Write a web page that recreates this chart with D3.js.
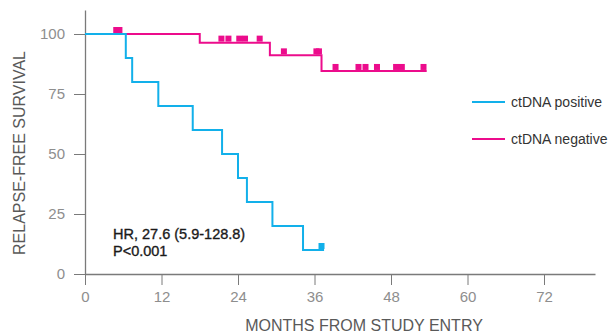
<!DOCTYPE html>
<html lang="en">
<head>
    <meta charset="UTF-8">
    <title>Relapse-free survival</title>
    <script src="https://d3js.org/d3.v7.min.js"></script>
    <style>
        body { margin: 0; background: #fff; }
        svg { font-family: "Liberation Sans", Arial, sans-serif; }
    </style>
</head>
<body>
<script>

// ctDNA positive: step times (months) and survival (%)
const posTimes = [0, 6.4, 7.4, 11.5, 16.9, 21.5, 24.0, 25.4, 29.4, 34.2, 37.5];
const posSurv  = [100, 90, 80, 70, 60, 50, 40, 30, 20, 10, 10];
const posCensor = [37.1];

// ctDNA negative
const negTimes = [0, 18.0, 29.0, 37.1, 53.6];
const negSurv  = [100, 96.4, 91.1, 84.6, 84.6];
const negCensor = [4.9, 5.4, 21.4, 22.5, 24.2, 25.1, 27.4, 31.2, 36.3, 36.7,
                   39.3, 42.9, 44.0, 45.8, 48.8, 49.7, 53.1];

const xTicks = [0, 12, 24, 36, 48, 60, 72];
const yTicks = [0, 25, 50, 75, 100];

const seriesNames = ["ctDNA positive", "ctDNA negative"];
const colors = ["#12b0ea", "#ec0c8c"];

const w = 615;
const h = 335;

const x = d3.scaleLinear().domain([0, 80]).range([85, 595]);
const y = d3.scaleLinear().domain([0, 110]).range([274, 10]);

const svg = d3.select("body").append("svg")
    .attr("width", w)
    .attr("height", h);

// axes
const xAxis = svg.append("g")
    .attr("transform", "translate(0,274)")
    .call(d3.axisBottom(x).tickValues(xTicks).tickSize(11).tickPadding(6).tickSizeOuter(0));

const yAxis = svg.append("g")
    .attr("transform", "translate(85,0)")
    .call(d3.axisLeft(y).tickValues(yTicks).tickSize(11).tickPadding(9).tickSizeOuter(0));

[xAxis, yAxis].forEach(g => {
    g.select(".domain").attr("stroke", "#7a7a7a").attr("stroke-width", 1.3);
    g.selectAll(".tick line").attr("stroke", "#7a7a7a").attr("stroke-width", 1);
    g.selectAll(".tick text")
        .attr("fill", "#8e8e8e")
        .style("font-size", "15px")
        .style("font-family", "\"Liberation Sans\", Arial, sans-serif");
});

svg.append("text")
    .attr("x", 364)
    .attr("y", 331)
    .attr("text-anchor", "middle")
    .attr("fill", "#595959")
    .style("font-size", "16px")
    .text("MONTHS FROM STUDY ENTRY");

svg.append("text")
    .attr("transform", "translate(25,153) rotate(-90)")
    .attr("text-anchor", "middle")
    .attr("fill", "#595959")
    .style("font-size", "16px")
    .text("RELAPSE-FREE SURVIVAL");

// curves
const line = d3.line()
    .x(d => x(d[0]))
    .y(d => y(d[1]))
    .curve(d3.curveStepAfter);

const series = [
    { times: negTimes, surv: negSurv, censor: negCensor, color: colors[1] },
    { times: posTimes, surv: posSurv, censor: posCensor, color: colors[0] }
];

function survAt(s, t) {
    let v = s.surv[0];
    s.times.forEach((ti, i) => { if (ti <= t) v = s.surv[i]; });
    return v;
}

series.forEach(s => {
    svg.append("path")
        .datum(d3.zip(s.times, s.surv))
        .attr("fill", "none")
        .attr("stroke", s.color)
        .attr("stroke-width", 2)
        .attr("d", line);

    svg.selectAll(null)
        .data(s.censor)
        .enter()
        .append("rect")
        .attr("x", d => x(d) - 3)
        .attr("y", d => y(survAt(s, d)) - 7)
        .attr("width", 6)
        .attr("height", 6)
        .attr("fill", s.color);
});

// legend
const legend = svg.append("g");
seriesNames.forEach((name, i) => {
    const ly = 102 + i * 37;
    legend.append("line")
        .attr("x1", 472).attr("x2", 505)
        .attr("y1", ly).attr("y2", ly)
        .attr("stroke", colors[i])
        .attr("stroke-width", 2);
    legend.append("text")
        .attr("x", 511)
        .attr("y", ly + 5)
        .attr("fill", "#333")
        .style("font-size", "14px")
        .text(name);
});

// annotation
svg.append("text")
    .attr("x", 113)
    .attr("y", 239)
    .attr("fill", "#1a1a1a")
    .attr("stroke", "#1a1a1a")
    .attr("stroke-width", 0.35)
    .style("font-size", "14.5px")
    .text("HR, 27.6 (5.9-128.8)");

svg.append("text")
    .attr("x", 113)
    .attr("y", 256)
    .attr("fill", "#1a1a1a")
    .attr("stroke", "#1a1a1a")
    .attr("stroke-width", 0.35)
    .style("font-size", "14.5px")
    .text("P<0.001");

</script>
</body>
</html>
